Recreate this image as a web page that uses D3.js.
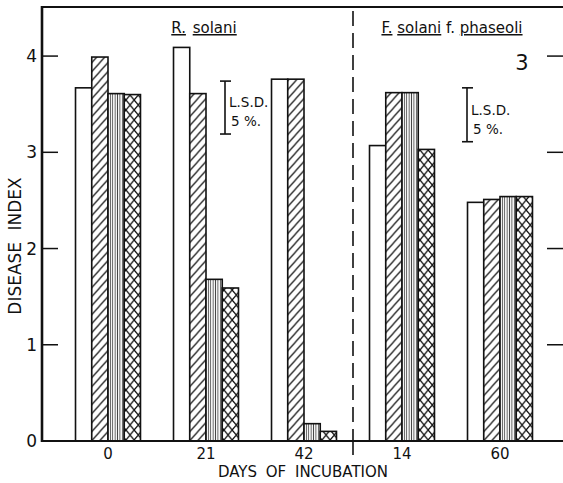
<!DOCTYPE html>
<html>
<head>
<meta charset="utf-8">
<script src="https://cdnjs.cloudflare.com/ajax/libs/d3/7.8.5/d3.min.js"></script>
<style>
  body { margin: 0; background: #fff; }
  svg text { font-family: "DejaVu Sans", sans-serif; fill: #111; }
</style>
</head>
<body>
<svg id="chart" width="563" height="483"></svg>
<script>
// days of incubation (first three R. solani, last two F. solani f. phaseoli)
var groups = ['0', '21', '42', '14', '60']
var series = ['open', 'hatch', 'vert', 'cross']

// disease index
var openVals  = [3.67, 4.09, 3.76, 3.07, 2.48]
var hatchVals = [3.99, 3.61, 3.76, 3.62, 2.51]
var vertVals  = [3.61, 1.68, 0.18, 3.62, 2.54]
var crossVals = [3.60, 1.59, 0.10, 3.03, 2.54]

var yTicks = [0, 1, 2, 3, 4]

// L.S.D. 5% bars: [top, bottom] in disease index units
var lsdLeft = [3.74, 3.19]
var lsdRight = [3.67, 3.11]

var svg = d3.select('#chart')
var W = 563, H = 483
var mLeft = 42, mTop = 7, mBottom = 441

var x0 = d3.scaleBand().domain(groups).range([59, 549]).paddingInner(0.337).paddingOuter(0.1685)
var x1 = d3.scaleBand().domain(series).range([0, x0.bandwidth()])
var y = d3.scaleLinear().domain([0, 4.51]).range([mBottom, mTop])

// patterns
var defs = svg.append('defs')
var ph = defs.append('pattern').attr('id', 'p-hatch').attr('patternUnits', 'userSpaceOnUse')
  .attr('width', 8).attr('height', 9)
ph.append('rect').attr('width', 8).attr('height', 9).attr('fill', '#fff')
ph.append('path').attr('d', 'M-2,2.25 L2,-2.25 M0,9 L8,0 M6,11.25 L10,6.75')
  .attr('stroke', '#111').attr('stroke-width', 1.2)

var pv = defs.append('pattern').attr('id', 'p-vert').attr('patternUnits', 'userSpaceOnUse')
  .attr('width', 2.4).attr('height', 4)
pv.append('rect').attr('width', 2.4).attr('height', 4).attr('fill', '#fff')
pv.append('line').attr('x1', 1.2).attr('x2', 1.2).attr('y1', 0).attr('y2', 4)
  .attr('stroke', '#444').attr('stroke-width', 0.9)

var pc = defs.append('pattern').attr('id', 'p-cross').attr('patternUnits', 'userSpaceOnUse')
  .attr('width', 8.2).attr('height', 10).attr('x', x0('0') + x1('cross'))
pc.append('rect').attr('width', 8.2).attr('height', 10).attr('fill', '#fff')
pc.append('path').attr('d', 'M0,0 L8.2,10 M8.2,0 L0,10')
  .attr('stroke', '#111').attr('stroke-width', 1.3)

var fills = { open: '#fff', hatch: 'url(#p-hatch)', vert: 'url(#p-vert)', cross: 'url(#p-cross)' }

var rows = groups.map(function (g, i) {
  return { g: g, vals: { open: openVals[i], hatch: hatchVals[i], vert: vertVals[i], cross: crossVals[i] } }
})

// bars
var grp = svg.selectAll('g.grp').data(rows).enter().append('g')
  .attr('class', 'grp')
  .attr('transform', function (d) { return 'translate(' + x0(d.g) + ',0)' })

grp.selectAll('rect').data(function (d) {
  return series.map(function (s) { return { s: s, v: d.vals[s] } })
}).enter().append('rect')
  .attr('x', function (d) { return x1(d.s) })
  .attr('width', x1.bandwidth())
  .attr('y', function (d) { return y(d.v) })
  .attr('height', function (d) { return mBottom - y(d.v) })
  .attr('fill', function (d) { return fills[d.s] })
  .attr('stroke', '#111')
  .attr('stroke-width', 1.6)

// frame
svg.append('line').attr('x1', mLeft).attr('x2', W).attr('y1', mTop).attr('y2', mTop)
  .attr('stroke', '#111').attr('stroke-width', 2)
svg.append('line').attr('x1', mLeft).attr('x2', W).attr('y1', mBottom).attr('y2', mBottom)
  .attr('stroke', '#111').attr('stroke-width', 2)
svg.append('line').attr('x1', mLeft).attr('x2', mLeft).attr('y1', mTop - 1).attr('y2', mBottom + 1)
  .attr('stroke', '#111').attr('stroke-width', 2.6)

// ticks left and right
svg.selectAll('.tl').data(yTicks.slice(1)).enter().append('line')
  .attr('x1', mLeft).attr('x2', mLeft + 16)
  .attr('y1', function (d) { return y(d) }).attr('y2', function (d) { return y(d) })
  .attr('stroke', '#111').attr('stroke-width', 1.5)
svg.selectAll('.tr').data(yTicks.slice(1)).enter().append('line')
  .attr('x1', W - 16).attr('x2', W)
  .attr('y1', function (d) { return y(d) }).attr('y2', function (d) { return y(d) })
  .attr('stroke', '#111').attr('stroke-width', 1.5)

svg.selectAll('.yl').data(yTicks).enter().append('text')
  .attr('x', 37).attr('y', function (d) { return y(d) + 6 })
  .attr('text-anchor', 'end').style('font-size', '17px')
  .text(function (d) { return d })

// x labels
svg.selectAll('.xl').data(groups).enter().append('text')
  .attr('x', function (d) { return x0(d) + x0.bandwidth() / 2 })
  .attr('y', 459).attr('text-anchor', 'middle').style('font-size', '15px')
  .text(function (d) { return d })

svg.append('text').attr('x', 303).attr('y', 477).attr('text-anchor', 'middle')
  .style('font-size', '15px').style('word-spacing', '4px')
  .text('DAYS OF INCUBATION')

svg.append('text').attr('transform', 'translate(21,246) rotate(-90)')
  .attr('text-anchor', 'middle').style('font-size', '17px').style('word-spacing', '6px')
  .text('DISEASE INDEX')

// divider between the two pathogens
var divX = (x0('42') + x0.bandwidth() + x0('14')) / 2
svg.append('line').attr('x1', divX).attr('x2', divX).attr('y1', mTop + 4).attr('y2', mBottom)
  .attr('stroke', '#111').attr('stroke-width', 1.6).attr('stroke-dasharray', '15,7')
svg.append('line').attr('x1', divX).attr('x2', divX).attr('y1', mBottom).attr('y2', 455)
  .attr('stroke', '#111').attr('stroke-width', 1.6)

// titles
var t1 = svg.append('text').attr('x', 204).attr('y', 33).attr('text-anchor', 'middle')
  .style('font-size', '15px').style('word-spacing', '2px')
t1.append('tspan').style('text-decoration', 'underline').text('R.')
t1.append('tspan').text(' ')
t1.append('tspan').style('text-decoration', 'underline').text('solani')

var t2 = svg.append('text').attr('x', 452).attr('y', 33).attr('text-anchor', 'middle')
  .style('font-size', '15px')
t2.append('tspan').style('text-decoration', 'underline').text('F.')
t2.append('tspan').text(' ')
t2.append('tspan').style('text-decoration', 'underline').text('solani')
t2.append('tspan').text(' f. ')
t2.append('tspan').style('text-decoration', 'underline').text('phaseoli')

svg.append('text').attr('x', 522).attr('y', 70).attr('text-anchor', 'middle')
  .style('font-size', '21px').text('3')

// LSD markers
function lsd (xc, vals, tx, ty1, ty2) {
  var g = svg.append('g')
  g.append('line').attr('x1', xc).attr('x2', xc).attr('y1', y(vals[0])).attr('y2', y(vals[1]))
    .attr('stroke', '#111').attr('stroke-width', 1.6)
  vals.forEach(function (v) {
    g.append('line').attr('x1', xc - 5).attr('x2', xc + 6).attr('y1', y(v)).attr('y2', y(v))
      .attr('stroke', '#111').attr('stroke-width', 1.6)
  })
  g.append('text').attr('x', tx).attr('y', ty1).style('font-size', '13.5px').text('L.S.D.')
  g.append('text').attr('x', tx + 2).attr('y', ty2).style('font-size', '13.5px').text('5 %.')
}
lsd(225, lsdLeft, 229, 107, 126)
lsd(467, lsdRight, 471, 115, 134)
</script>
</body>
</html>
